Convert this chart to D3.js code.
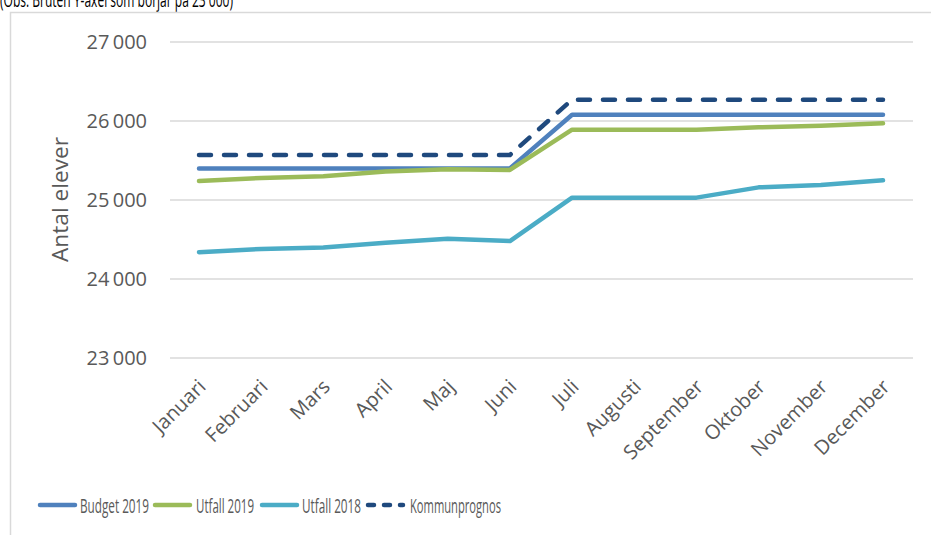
<!DOCTYPE html>
<html lang="sv">
<head>
<meta charset="UTF-8">
<title>Antal elever</title>
<style>
  body { margin: 0; background: #fff; }
  svg { display: block; }
  text { font-family: "Open Sans", sans-serif; fill: #595959; }
</style>
</head>
<body>
<svg width="931" height="535"></svg>
<script src="https://d3js.org/d3.v7.min.js"></script>
<script>
  const months = ["Januari", "Februari", "Mars", "April", "Maj", "Juni", "Juli", "Augusti", "September", "Oktober", "November", "December"];
  const budget2019 = [25400, 25400, 25400, 25400, 25400, 25400, 26080, 26080, 26080, 26080, 26080, 26080];
  const utfall2019 = [25240, 25280, 25300, 25360, 25390, 25380, 25890, 25890, 25890, 25920, 25940, 25970];
  const utfall2018 = [24340, 24380, 24400, 24460, 24510, 24480, 25030, 25030, 25030, 25160, 25190, 25250];
  const kommunprognos = [25570, 25570, 25570, 25570, 25570, 25570, 26270, 26270, 26270, 26270, 26270, 26270];
  const yTicks = [23000, 24000, 25000, 26000, 27000];

  const series = [
    { name: "Budget 2019", values: budget2019, color: "#4f81bd", dash: null },
    { name: "Utfall 2019", values: utfall2019, color: "#9bbb59", dash: null },
    { name: "Utfall 2018", values: utfall2018, color: "#4bacc6", dash: null },
    { name: "Kommunprognos", values: kommunprognos, color: "#1f497d", dash: "12,13" }
  ];

  const svg = d3.select("svg");

  // note above the chart (partly cut off at the top, as in the source)
  svg.append("text")
    .attr("x", 0).attr("y", 7)
    .attr("font-size", 20).style("fill", "#000")
    .attr("textLength", 233).attr("lengthAdjust", "spacingAndGlyphs")
    .text("(Obs. Bruten Y-axel som börjar på 23 000)");

  // chart frame
  svg.append("rect")
    .attr("x", 10.5).attr("y", 12.5).attr("width", 940).attr("height", 540)
    .attr("fill", "none").attr("stroke", "#d9d9d9").attr("stroke-width", 1.5);

  const x = d3.scalePoint().domain(months).range([199, 883]);
  const y = d3.scaleLinear().domain([23000, 27000]).range([358, 42]);

  const fmt = v => d3.format(",")(v).replace(",", "\u2009");

  // gridlines
  svg.append("g")
    .selectAll("line")
    .data(yTicks)
    .join("line")
    .attr("x1", 170).attr("x2", 913)
    .attr("y1", d => y(d)).attr("y2", d => y(d))
    .attr("stroke", "#d9d9d9").attr("stroke-width", 1.5);

  svg.append("g")
    .selectAll("text")
    .data(yTicks)
    .join("text")
    .attr("x", 147).attr("y", d => y(d))
    .attr("dy", "0.35em")
    .attr("font-size", 20)
    .attr("text-anchor", "end")
    .text(fmt);

  svg.append("text")
    .attr("transform", "translate(68,199.5) rotate(-90)")
    .attr("text-anchor", "middle")
    .attr("font-size", 21)
    .attr("textLength", 125).attr("lengthAdjust", "spacingAndGlyphs")
    .text("Antal elever");

  // x labels, rotated
  svg.append("g")
    .selectAll("text")
    .data(months)
    .join("text")
    .attr("font-size", 20)
    .attr("text-anchor", "end")
    .attr("transform", d => `translate(${x(d) + 8},${388}) rotate(-45)`)
    .text(d => d);

  const line = d3.line()
    .x((d, i) => x(months[i]))
    .y(d => y(d));

  svg.append("g")
    .selectAll("path")
    .data(series)
    .join("path")
    .attr("d", d => line(d.values))
    .attr("fill", "none")
    .attr("stroke", d => d.color)
    .attr("stroke-width", 4.5)
    .attr("stroke-linecap", "round")
    .attr("stroke-linejoin", "round")
    .attr("stroke-dasharray", d => d.dash);

  // legend
  const legendPos = [38, 153, 260, 366];
  const legendTextX = [80, 196, 302, 410];
  const legendTextLen = [69, 58, 59, 91];
  const legend = svg.append("g")
    .selectAll("g")
    .data(series)
    .join("g");

  legend.append("line")
    .attr("x1", (d, i) => legendPos[i] + 2).attr("x2", (d, i) => legendPos[i] + 37)
    .attr("y1", 505).attr("y2", 505)
    .attr("stroke", d => d.color)
    .attr("stroke-width", 4.5)
    .attr("stroke-linecap", "round")
    .attr("stroke-dasharray", d => d.dash ? "6,10" : null);

  legend.append("text")
    .attr("x", (d, i) => legendTextX[i]).attr("y", 506)
    .attr("dy", "0.36em")
    .attr("font-size", 20)
    .attr("textLength", (d, i) => legendTextLen[i]).attr("lengthAdjust", "spacingAndGlyphs")
    .text(d => d.name);
</script>
</body>
</html>
